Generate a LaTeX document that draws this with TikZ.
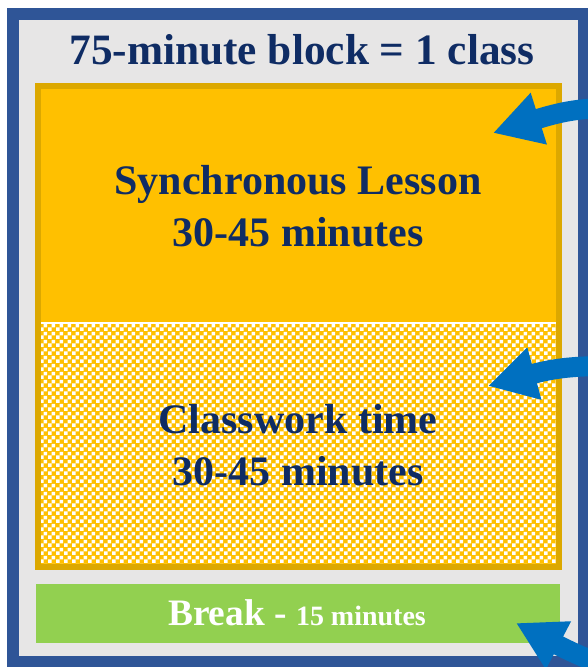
\documentclass[tikz,border=0pt]{standalone}
\usepackage{fontspec}
\setmainfont{Liberation Serif}
\usetikzlibrary{arrows.meta,patterns.meta}
\definecolor{FrameBlue}{HTML}{2F5597}
\definecolor{PanelGray}{HTML}{E7E6E6}
\definecolor{LessonGold}{HTML}{FFC000}
\definecolor{EdgeGold}{HTML}{DCA800}
\definecolor{BreakGreen}{HTML}{92D050}
\definecolor{TextNavy}{HTML}{0F2C64}
\definecolor{ArrowBlue}{HTML}{0070C0}

% small white/yellow checks for the classwork part
\tikzdeclarepattern{
  name=checks,
  type=uncolored,
  bottom left={(0pt,0pt)},
  top right={(6pt,6pt)},
  tile size={(6pt,6pt)},
  code={
    \fill (0pt,0pt) rectangle (3pt,3pt);
    \fill (3pt,3pt) rectangle (6pt,6pt);
  }
}

\tikzset{
  label text/.style={font=\bfseries\fontsize{31.5}{39}\selectfont, text=TextNavy, align=center},
  pointer/.style={ArrowBlue, line width=15pt,
    -{Triangle[length=36pt,width=38pt]}},
}

\begin{document}
\begin{tikzpicture}[x=0.75pt, y=-0.75pt]
  \useasboundingbox (0,0) rectangle (587,667);

  % outer frame
  \draw[FrameBlue, fill=PanelGray, line width=9pt] (13,14) rectangle (584,662);

  % lesson block: solid top, checked bottom
  \fill[LessonGold] (38,86) rectangle (559,567);
  \fill[white] (38,322) rectangle (559,324);
  \fill[pattern=checks, pattern color=white] (38,324) rectangle (559,567);
  \draw[EdgeGold, line width=4.5pt] (38,86) rectangle (559,567);

  % break strip
  \fill[BreakGreen] (36,584) rectangle (560,643);

  \node[label text, font=\bfseries\fontsize{32.5}{39}\selectfont] (title) at (302,50) {75-minute block = 1 class};
  \node[label text] (lesson) at (298,206) {Synchronous Lesson\\30-45 minutes};
  \node[label text] (classwork) at (298,445) {Classwork time\\30-45 minutes};
  \node[font=\bfseries, text=white] (breaktext) at (297,613)
    {{\fontsize{28}{30}\selectfont Break -\ }{\fontsize{21}{24}\selectfont 15 minutes}};

  % pointers coming in from the right
  \coordinate (lessontail) at (610,108);
  \coordinate (lessontip) at (493,133);
  \coordinate (worktail) at (610,366);
  \coordinate (worktip) at (488,386);
  \coordinate (breaktail) at (612,668);
  \coordinate (breaktip) at (516,623);

  \draw[pointer] (lessontail) .. controls (580,108) and (560,112) .. (lessontip);
  \draw[pointer] (worktail) .. controls (575,366) and (555,368) .. (worktip);
  \draw[pointer] (breaktail) .. controls (590,660) and (575,654) .. (breaktip);
\end{tikzpicture}
\end{document}
